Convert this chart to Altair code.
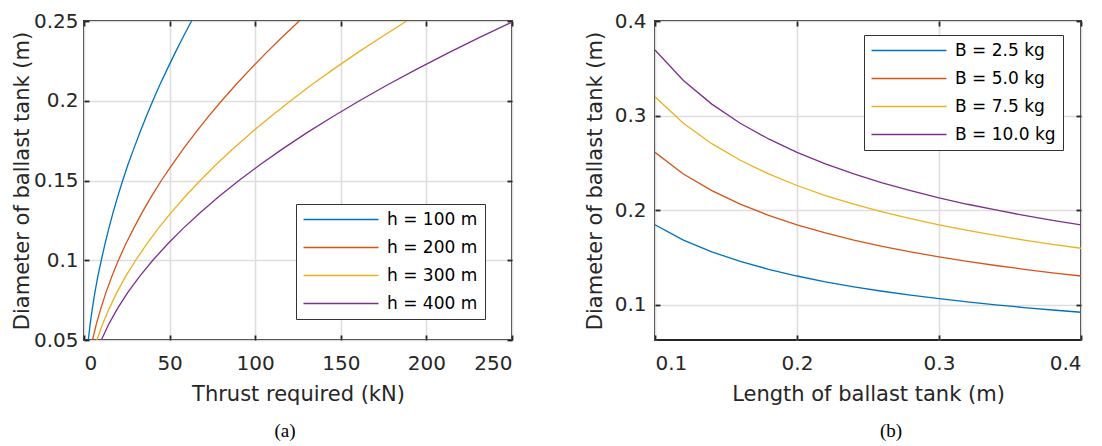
import altair as alt
import pandas as pd

# ---------------- Panel (a) data ----------------
diam_a = [0.05, 0.06, 0.07, 0.08, 0.09, 0.10, 0.11, 0.12, 0.13, 0.14, 0.15,
          0.16, 0.17, 0.18, 0.19, 0.20, 0.21, 0.22, 0.23, 0.24, 0.25]
thrust_h100 = [2.5, 3.6, 4.9, 6.4, 8.1, 10.1, 12.2, 14.5, 17.0, 19.7, 22.6,
               25.7, 29.1, 32.6, 36.3, 40.2, 44.3, 48.7, 53.2, 57.9, 62.8]
thrust_h200 = [5.0, 7.2, 9.9, 12.9, 16.3, 20.1, 24.3, 29.0, 34.0, 39.4, 45.2,
               51.5, 58.1, 65.2, 72.6, 80.4, 88.7, 97.3, 106.4, 115.8, 125.7]
thrust_h300 = [7.5, 10.9, 14.8, 19.3, 24.4, 30.2, 36.5, 43.4, 51.0, 59.1, 67.9,
               77.2, 87.2, 97.7, 108.9, 120.7, 133.0, 146.0, 159.6, 173.8, 188.5]
thrust_h400 = [10.1, 14.5, 19.7, 25.7, 32.6, 40.2, 48.7, 57.9, 68.0, 78.8, 90.5,
               103.0, 116.2, 130.3, 145.2, 160.9, 177.4, 194.7, 212.8, 231.7, 251.4]
series_a = ["h = 100 m", "h = 200 m", "h = 300 m", "h = 400 m"]

# ---------------- Panel (b) data ----------------
length_b = [0.10, 0.12, 0.14, 0.16, 0.18, 0.20, 0.22, 0.24, 0.26, 0.28, 0.30,
            0.32, 0.34, 0.36, 0.38, 0.40]
diam_B25 = [0.1847, 0.1686, 0.1561, 0.1460, 0.1377, 0.1306, 0.1245, 0.1192,
            0.1145, 0.1104, 0.1066, 0.1032, 0.1002, 0.0973, 0.0947, 0.0923]
diam_B50 = [0.2612, 0.2384, 0.2208, 0.2065, 0.1947, 0.1847, 0.1761, 0.1686,
            0.1619, 0.1561, 0.1508, 0.1460, 0.1417, 0.1377, 0.1340, 0.1306]
diam_B75 = [0.3199, 0.2920, 0.2704, 0.2529, 0.2385, 0.2262, 0.2156, 0.2065,
            0.1983, 0.1912, 0.1846, 0.1788, 0.1736, 0.1685, 0.1640, 0.1599]
diam_B100 = [0.3694, 0.3372, 0.3122, 0.2920, 0.2754, 0.2612, 0.2490, 0.2384,
             0.2290, 0.2208, 0.2132, 0.2064, 0.2004, 0.1946, 0.1894, 0.1846]
series_b = ["B = 2.5 kg", "B = 5.0 kg", "B = 7.5 kg", "B = 10.0 kg"]

colors = ["#0072BD", "#D95319", "#EDB120", "#7E2F8E"]

rows = []
for name, vals in zip(series_a, [thrust_h100, thrust_h200, thrust_h300, thrust_h400]):
    for d, t in zip(diam_a, vals):
        rows.append({"x": t, "y": d, "s": name})
df_a = pd.DataFrame(rows)

rows = []
for name, vals in zip(series_b, [diam_B25, diam_B50, diam_B75, diam_B100]):
    for l, d in zip(length_b, vals):
        rows.append({"x": l, "y": d, "s": name})
df_b = pd.DataFrame(rows)

FONT = "DejaVu Sans"
TICK = "#262626"


def panel(df, order, xdom, ydom, xvals, yvals, xfmt, yfmt, xtitle, ytitle, w, h,
          lx, ly, ylabpad, ytitpad, caption, cdx):
    xs = alt.Scale(domain=xdom, nice=False, zero=False)
    ys = alt.Scale(domain=ydom, nice=False, zero=False)
    main_x = alt.Axis(values=xvals, format=xfmt, grid=True, gridColor="#dedede",
                      gridWidth=1.6, ticks=False, tickSize=0, domain=False,
                      labelFont=FONT, labelFontSize=20, labelColor="#262626",
                      labelPadding=13, labelOverlap=False,
                      title=xtitle, titleFont=FONT, titleFontSize=21,
                      titleFontWeight="normal", titleColor="#262626",
                      titlePadding=10, orient="bottom")
    main_y = alt.Axis(values=yvals, format=yfmt, grid=True, gridColor="#dedede",
                      gridWidth=1.6, ticks=False, tickSize=0, domain=False,
                      labelFont=FONT, labelFontSize=20, labelColor="#262626",
                      labelPadding=ylabpad, labelOverlap=False,
                      title=ytitle, titleFont=FONT, titleFontSize=21,
                      titleFontWeight="normal", titleColor="#262626",
                      titlePadding=ytitpad, orient="left")

    def tick_axis(vals, orient):
        return alt.Axis(values=vals, labels=False, grid=False, domain=False,
                        ticks=True, tickSize=5, tickColor=TICK, tickWidth=1.8,
                        offset=-5, title=None, orient=orient)

    legend = alt.Legend(title=None, orient="none", legendX=lx, legendY=ly,
                        symbolType="M-1.6,0H13.4", symbolSize=100,
                        symbolStrokeWidth=1.3, labelFont=FONT,
                        labelFontSize=17, labelColor="#000000",
                        labelOffset=67, rowPadding=10, padding=7,
                        fillColor="white", strokeColor="#333333",
                        cornerRadius=0)

    l1 = alt.Chart(df).mark_line(strokeWidth=1.3, clip=True).encode(
        x=alt.X("x:Q", scale=xs, axis=main_x),
        y=alt.Y("y:Q", scale=ys, axis=main_y),
        color=alt.Color("s:N", scale=alt.Scale(domain=order, range=colors),
                        sort=order, legend=legend),
    )
    l2 = alt.Chart(df).mark_line(opacity=0, clip=True).encode(
        x=alt.X("x:Q", scale=xs, axis=tick_axis(xvals, "bottom")),
        y=alt.Y("y:Q", scale=ys, axis=tick_axis(yvals, "left")),
        detail="s:N",
    )
    l3 = alt.Chart(df).mark_line(opacity=0, clip=True).encode(
        x=alt.X("x:Q", scale=xs, axis=tick_axis(xvals, "top")),
        y=alt.Y("y:Q", scale=ys, axis=tick_axis(yvals, "right")),
        detail="s:N",
    )
    return alt.layer(l1, l2, l3).resolve_axis(x="independent", y="independent").properties(
        width=w, height=h,
        title=alt.TitleParams(caption, orient="bottom", font="Liberation Serif",
                              fontSize=19, fontWeight="normal", color="#000000",
                              anchor="middle", frame="group", dx=cdx, offset=18),
    )


pa = panel(df_a, series_a, [0, 250], [0.05, 0.25], [0, 50, 100, 150, 200, 250],
           [0.05, 0.1, 0.15, 0.2, 0.25], ".0f", ".2~f", "Thrust required (kN)",
           "Diameter of ballast tank (m)", 428, 319, 212, 183, 6, 1, "(a)", -13)
pb = panel(df_b, series_b, [0.1, 0.4], [0.063, 0.4], [0.1, 0.2, 0.3, 0.4],
           [0.1, 0.2, 0.3, 0.4], ".1f", ".1f", "Length of ballast tank (m)",
           "Diameter of ballast tank (m)", 426, 319, 209, 14, 9, 9, "(b)", 23)

chart = alt.hconcat(pa, pb, spacing=69).resolve_scale(color="independent").properties(
    padding={"left": 10, "top": 10, "right": 2, "bottom": 5},
    background="white",
).configure_view(stroke="#262626", strokeWidth=2)

chart.save("out.html", embed_options={"renderer": "svg", "actions": False})
